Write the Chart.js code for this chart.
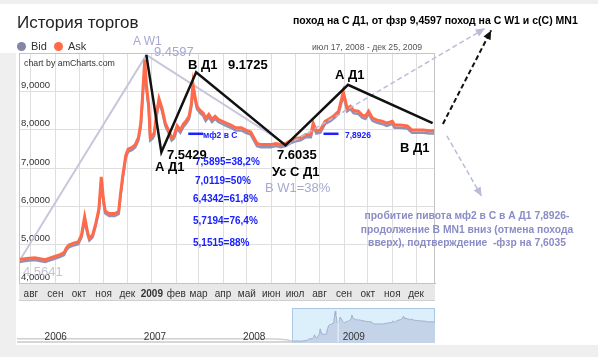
<!DOCTYPE html>
<html><head><meta charset="utf-8">
<script src="https://cdn.jsdelivr.net/npm/chart.js@4.4.1/dist/chart.umd.min.js"></script>
<style>
html,body{margin:0;padding:0;background:#fff;}
#wrap{position:relative;width:598px;height:357px;overflow:hidden;background:#fff;font-family:"Liberation Sans",Arial,sans-serif;}
.t{position:absolute;white-space:nowrap;line-height:1;}
.blk{color:#000;font-size:13px;font-weight:bold;}
.blu{color:#1a22ff;font-size:10px;font-weight:bold;}
.lav{color:#a6a8d2;font-size:13px;}
#main{position:absolute;left:0;top:0;}
#nav{position:absolute;left:17px;top:308px;}
.dot{position:absolute;width:9px;height:9px;border-radius:50%;}
</style></head><body>
<div id="wrap">
 <div style="position:absolute;left:0;top:0;width:598px;height:4px;background:#efefef"></div>
 <div style="position:absolute;left:0;top:53px;width:16px;height:292px;background:#efefef"></div>
 <div style="position:absolute;left:0;top:345px;width:598px;height:12px;background:#efefef"></div>
 <canvas id="main" width="598" height="357"></canvas>
 <canvas id="nav" width="418" height="35"></canvas>

 <div class="t" style="left:17px;top:14px;font-size:17px;color:#222;">История торгов</div>
 <div class="dot" style="left:17px;top:42px;background:#8386a6;"></div>
 <div class="t" style="left:31px;top:41px;font-size:11px;color:#333;">Bid</div>
 <div class="dot" style="left:54px;top:42px;background:#ff6b4a;"></div>
 <div class="t" style="left:68px;top:41px;font-size:11px;color:#333;">Ask</div>
 <div class="t" style="left:24px;top:59px;font-size:8.8px;color:#333;">chart by amCharts.com</div>

 <div class="t" style="left:293px;top:15px;font-size:10.5px;font-weight:bold;color:#000;">поход на С Д1, от фзр 9,4597 поход на С W1 и с(С) MN1</div>
 <div class="t" style="left:312px;top:43px;font-size:8.7px;color:#555;">июл 17, 2008 - дек 25, 2009</div>

 <div class="t lav" style="left:133px;top:35px;font-size:12px;">A W1</div>
 <div class="t lav" style="left:154px;top:45px;">9.4597</div>
 <div class="t blk" style="left:188px;top:58px;">В Д1</div>
 <div class="t blk" style="left:228px;top:58px;">9.1725</div>
 <div class="t blk" style="left:335px;top:68px;">А Д1</div>
 <div class="t blk" style="left:167px;top:148px;">7.5429</div>
 <div class="t blk" style="left:155px;top:160px;">А Д1</div>
 <div class="t blu" style="left:203px;top:131px;font-size:8.5px;">мф2 в С</div>
 <div class="t blu" style="left:195px;top:157px;">7,5895=38,2%</div>
 <div class="t blu" style="left:195px;top:176px;">7,0119=50%</div>
 <div class="t blu" style="left:193px;top:194px;">6,4342=61,8%</div>
 <div class="t blu" style="left:193px;top:216px;">5,7194=76,4%</div>
 <div class="t blu" style="left:193px;top:238px;">5,1515=88%</div>
 <div class="t blk" style="left:277px;top:148px;">7.6035</div>
 <div class="t blk" style="left:272px;top:165px;">Ус С Д1</div>
 <div class="t lav" style="left:265px;top:181px;">В W1=38%</div>
 <div class="t blu" style="left:345px;top:131px;font-size:8.5px;">7,8926</div>
 <div class="t blk" style="left:400px;top:141px;">В Д1</div>
 <div class="t" style="left:23px;top:265px;font-size:13px;color:#c4c4d2;">4.5641</div>
 <div class="t" style="left:342px;top:209px;width:250px;text-align:center;font-size:10.3px;font-weight:bold;color:#8a8cc6;line-height:13.5px;white-space:normal;">пробитие пивота мф2 в С в А Д1 7,8926-<br>продолжение В MN1 вниз (отмена похода<br>вверх), подтверждение &nbsp;-фзр на 7,6035</div>
</div>
<script>
// ---- data (x = days since Jul 17, 2008) ----
const askDays=[0,10,20,33,45,52,57,60,63,69,75,79,83,87,89,93,97,101,104,107,109,114,121,126,128,131,135,138,143,147,151,154,156,159,161,164,166,169,171,174,177,181,185,189,193,196,200,204,208,211,215,218,220,223,225,229,233,236,240,244,248,252,257,262,268,274,281,287,293,297,301,306,312,318,325,331,337,343,350,356,362,369,372,376,381,387,394,399,404,408,410,413,415,419,423,429,434,438,442,447,453,459,465,472,475,482,491,497,503,511,519,526];
const askValues=[4.61,4.64,4.66,4.61,4.69,4.74,4.79,4.92,4.99,5.04,5.07,5.25,5.73,5.30,5.17,5.25,5.55,5.93,6.77,6.14,5.88,5.81,5.81,5.86,6.26,6.77,7.33,7.49,7.54,7.61,7.79,8.17,8.81,9.83,9.19,8.63,7.79,7.84,7.92,8.43,8.81,8.55,8.17,7.99,7.79,7.84,8.10,7.99,8.15,8.22,8.35,8.68,9.19,8.81,8.61,8.50,8.43,8.30,8.40,8.27,8.35,8.27,8.22,8.17,8.12,8.05,8.05,7.99,7.94,7.79,7.64,7.61,7.61,7.61,7.64,7.61,7.64,7.71,7.77,7.79,7.87,7.87,8.17,7.97,7.99,8.22,8.30,8.38,8.48,8.81,8.99,8.73,8.55,8.61,8.50,8.48,8.38,8.35,8.48,8.30,8.25,8.22,8.17,8.22,8.12,8.12,8.10,7.99,7.99,7.99,7.97,7.97];
const bidValues=[4.55,4.58,4.60,4.55,4.63,4.68,4.73,4.86,4.93,4.98,5.01,5.19,5.62,5.24,5.11,5.19,5.49,5.87,6.65,6.08,5.82,5.75,5.75,5.80,6.20,6.69,7.26,7.42,7.47,7.54,7.72,8.08,8.70,9.66,9.08,8.54,7.72,7.77,7.85,8.35,8.72,8.47,8.10,7.92,7.72,7.77,8.03,7.92,8.08,8.15,8.28,8.60,9.08,8.73,8.54,8.43,8.36,8.23,8.33,8.20,8.28,8.20,8.15,8.10,8.05,7.98,7.98,7.92,7.87,7.72,7.57,7.54,7.54,7.54,7.57,7.54,7.57,7.64,7.70,7.72,7.80,7.80,8.09,7.90,7.92,8.15,8.23,8.31,8.41,8.72,8.90,8.66,8.48,8.54,8.43,8.41,8.31,8.28,8.41,8.23,8.18,8.15,8.10,8.15,8.05,8.05,8.03,7.92,7.92,7.92,7.90,7.90];

const zigzagDays=[161,180,224,337,416,523];
const zigzagValues=[9.95,7.41,9.50,7.59,9.17,8.17];
const waveW1Days=[0,161,339];
const waveW1Values=[4.56,9.95,7.60];
const upArrowDays=[339,589];
const upArrowValues=[7.60,10.64];
const blackArrowDays=[536,597];
const blackArrowValues=[8.15,10.59];
const downArrowDays=[541,585];
const downArrowValues=[7.84,6.26];
const pivotDaysA=[214,233];
const pivotDaysB=[385,404];
const pivotValues=[7.8926,7.8926];

const monthTickDays=[15,46,76,107,137,168,199,227,258,288,319,349,380,411,441,472,502];
const monthTickLabels=['авг','сен','окт','ноя','дек','2009','фев','мар','апр','май','июн','июл','авг','сен','окт','ноя','дек'];
const yTickValues=[4,5,6,7,8,9,10];

const navPreDays=[-1011,-900,-700,-500,-300,-150,-60,-20,0];
const navPreValues=[5.05,5.05,5.05,5.05,5.05,5.04,4.98,4.85,4.61];
const navYearStarts=[-928,-563,-198,168];
const navYearLabels=['2006','2007','2008','2009'];

const xy=(d,v)=>d.map((x,i)=>({x:x,y:v[i]}));
const FONT='"Liberation Sans", Arial, sans-serif';

const bandPlugin={id:'band',beforeDraw(c){const a=c.chartArea,ctx=c.ctx;ctx.save();ctx.fillStyle='#e8e8e8';ctx.fillRect(a.left,a.bottom,a.right-a.left,18);ctx.fillStyle='#cfcfcf';ctx.fillRect(a.left,a.bottom+17,a.right-a.left,1);ctx.restore();},
 afterDraw(c){const a=c.chartArea,ctx=c.ctx;ctx.save();ctx.strokeStyle='#c4c4c4';ctx.lineWidth=1;ctx.strokeRect(a.left+0.5,a.top+0.5,a.right-a.left-1,a.bottom-a.top);ctx.restore();}};
const arrowPlugin={id:'arrows',afterDatasetsDraw(c){const ctx=c.ctx;c.data.datasets.forEach((ds,i)=>{if(!ds.arrowColor)return;const pts=c.getDatasetMeta(i).data;const p1=pts[pts.length-1],p0=pts[pts.length-2];const ang=Math.atan2(p1.y-p0.y,p1.x-p0.x);const L=9,W=4;ctx.save();ctx.translate(p1.x,p1.y);ctx.rotate(ang);ctx.fillStyle=ds.arrowColor;ctx.beginPath();ctx.moveTo(0,0);ctx.lineTo(-L,-W);ctx.lineTo(-L,W);ctx.closePath();ctx.fill();ctx.restore();});}};

const lineDs=(d,v,color,w,extra)=>Object.assign({data:xy(d,v),borderColor:color,borderWidth:w,pointRadius:0,tension:0,fill:false},extra||{});

new Chart(document.getElementById('main'),{
 type:'line',
 data:{datasets:[
  lineDs(zigzagDays,zigzagValues,'#111',2.5),
  lineDs(blackArrowDays,blackArrowValues,'#111',2,{borderDash:[5,3],clip:false,arrowColor:'#111'}),
  lineDs(upArrowDays,upArrowValues,'#b9bcd8',1.5,{borderDash:[5,3],clip:false,arrowColor:'#b9bcd8'}),
  lineDs(downArrowDays,downArrowValues,'#b9bcd8',1.5,{borderDash:[5,3],clip:false,arrowColor:'#b9bcd8'}),
  lineDs(pivotDaysA,pivotValues,'#1a22ff',2.5),
  lineDs(pivotDaysB,pivotValues,'#1a22ff',2.5),
  lineDs(askDays,askValues,'#ff6b4a',3),
  lineDs(askDays,bidValues,'#8e93b6',2.5),
  lineDs(waveW1Days,waveW1Values,'#c6c6dc',2)
 ]},
 options:{
  responsive:false,animation:false,
  layout:{padding:{left:15,top:53,right:163,bottom:52}},
  plugins:{legend:{display:false},tooltip:{enabled:false}},
  scales:{
   x:{type:'linear',min:0,max:526,
    grid:{color:'#dedede',drawTicks:false},border:{color:'#c4c4c4'},
    afterBuildTicks:s=>{s.ticks=monthTickDays.map(v=>({value:v}));},
    ticks:{autoSkip:false,maxRotation:0,padding:5,color:'#333',
     font:ctx=>({family:FONT,size:10,weight:(ctx.tick&&ctx.tick.value===168)?'bold':'normal'}),
     callback:v=>{const i=monthTickDays.indexOf(v);return i>=0?monthTickLabels[i]:'';}}},
   y:{type:'linear',min:4,max:10,
    grid:{color:'#dedede',drawTicks:false},border:{color:'#c4c4c4'},
    afterBuildTicks:s=>{s.ticks=yTickValues.map(v=>({value:v}));},
    ticks:{mirror:true,padding:2,labelOffset:-6,color:'#333',font:{family:FONT,size:9.5},
     callback:v=>v===10?'':v.toFixed(4).replace('.',',')}}
  }
 },
 plugins:[bandPlugin,arrowPlugin]
});

const navPlugin={id:'navbox',
 beforeDatasetsDraw(c){const x=c.scales.x,a=c.chartArea,ctx=c.ctx;const l=x.getPixelForValue(0),r=x.getPixelForValue(526);ctx.save();ctx.fillStyle='#dcf0fb';ctx.fillRect(l,a.top,r-l,a.bottom-a.top);ctx.strokeStyle='#a9c8e2';ctx.lineWidth=1;ctx.strokeRect(l+0.5,a.top+0.5,r-l-1,a.bottom-a.top-1);ctx.fillStyle='#d6d6d6';ctx.fillRect(a.left,a.bottom-2,l-a.left,2);ctx.restore();},
 afterDatasetsDraw(c){const x=c.scales.x,a=c.chartArea,ctx=c.ctx;ctx.save();const d=x.getPixelForValue(168);ctx.strokeStyle='#eef6fc';ctx.lineWidth=1;ctx.beginPath();ctx.moveTo(d+0.5,a.top+1);ctx.lineTo(d+0.5,a.bottom-1);ctx.stroke();
  ctx.fillStyle='#333';ctx.font='10px '+FONT;ctx.textBaseline='middle';navYearStarts.forEach((v,i)=>{ctx.fillText(navYearLabels[i],x.getPixelForValue(v)+5,29);});ctx.restore();}};

new Chart(document.getElementById('nav'),{
 type:'line',
 data:{datasets:[
  {data:xy(askDays,askValues),borderColor:'#a3b0cf',borderWidth:1,backgroundColor:'#c4d3e7',fill:'start',pointRadius:0,tension:0},
  {data:xy(navPreDays,navPreValues),borderColor:'#cfcfcf',borderWidth:1.5,fill:false,pointRadius:0,tension:0}
 ]},
 options:{responsive:false,animation:false,layout:{padding:0},
  plugins:{legend:{display:false},tooltip:{enabled:false}},
  scales:{x:{type:'linear',min:-1011,max:526,display:false},y:{min:4.3,max:10.4,display:false}}},
 plugins:[navPlugin]
});
</script>
</body></html>
